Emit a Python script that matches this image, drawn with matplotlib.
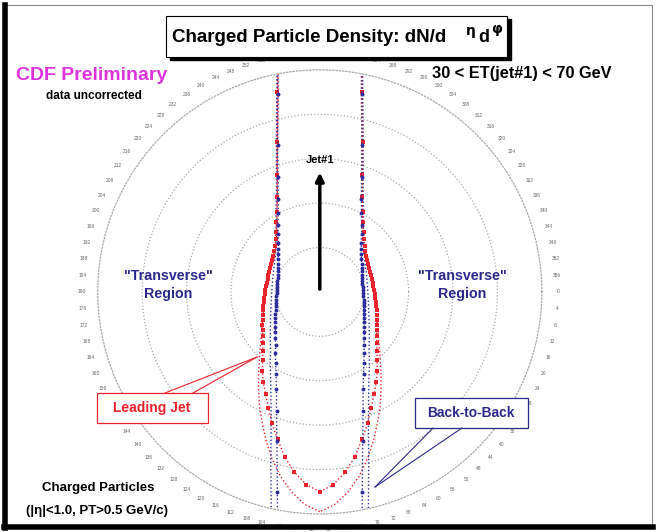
import numpy as np
import matplotlib.pyplot as plt
from matplotlib.patches import Rectangle

plt.rcParams['font.family'] = ['Liberation Sans', 'DejaVu Sans']

# delta phi from jet#1 (degrees), 4 degree bins
dphi = np.arange(0, 181, 4)

# charged particle density (scaled)
lead_data = [3.0, 2.7, 1.37, 0.92, 0.70, 0.56, 0.47, 0.41, 0.37, 0.335,
             0.31, 0.29, 0.275, 0.265, 0.258, 0.252, 0.248, 0.245, 0.243, 0.242,
             0.242, 0.243, 0.245, 0.248, 0.252, 0.257, 0.263, 0.27, 0.278, 0.287,
             0.298, 0.31, 0.325, 0.345, 0.37, 0.40, 0.44, 0.48, 0.52, 0.57,
             0.63, 0.69, 0.76, 0.82, 0.87, 0.90]
lead_theory = [3.0, 2.6, 1.35, 0.90, 0.69, 0.56, 0.47, 0.41, 0.365, 0.33,
               0.305, 0.285, 0.27, 0.26, 0.252, 0.247, 0.243, 0.24, 0.238, 0.237,
               0.237, 0.238, 0.24, 0.243, 0.247, 0.252, 0.258, 0.266, 0.275, 0.286,
               0.30, 0.315, 0.335, 0.36, 0.39, 0.425, 0.47, 0.52, 0.58, 0.64,
               0.71, 0.78, 0.85, 0.91, 0.96, 0.99]
b2b_data = [3.0, 2.6, 1.35, 0.91, 0.69, 0.55, 0.46, 0.40, 0.355, 0.32,
            0.29, 0.27, 0.252, 0.238, 0.227, 0.218, 0.211, 0.205, 0.20, 0.197,
            0.195, 0.194, 0.194, 0.195, 0.197, 0.20, 0.204, 0.209, 0.215, 0.222,
            0.231, 0.241, 0.254, 0.269, 0.288, 0.31, 0.34, 0.375, 0.42, 0.48,
            0.57, 0.70, 0.92, 1.35, 2.4, 3.0]
b2b_theory = [3.0, 2.6, 1.38, 0.93, 0.71, 0.57, 0.48, 0.42, 0.37, 0.335,
              0.305, 0.285, 0.268, 0.255, 0.245, 0.237, 0.231, 0.226, 0.222, 0.219,
              0.217, 0.216, 0.216, 0.217, 0.219, 0.222, 0.226, 0.231, 0.238, 0.246,
              0.256, 0.268, 0.282, 0.30, 0.32, 0.345, 0.38, 0.42, 0.47, 0.54,
              0.64, 0.80, 1.05, 1.5, 2.6, 3.0]

red = '#e8232b'
blue = '#2b2b9c'
navy = '#2a2a8c'
W, H = 656.0, 532.0


def both_sides(vals):
    # jet#1 sits at 270 deg, plot the same density on either side of it
    v = np.asarray(vals)
    ang = np.concatenate([270 - dphi[::-1], 270 + dphi[1:]])
    r = np.concatenate([v[::-1], v[1:]])
    return np.deg2rad(ang), r


def px(x, y):
    # pixel position (from top left) -> figure fraction
    return x / W, 1 - y / H


fig = plt.figure(figsize=(6.56, 5.32), dpi=100)

# slide frame
fig.patches.append(Rectangle((0.006, 0.009), 0.988, 0.982, transform=fig.transFigure,
                             fill=False, edgecolor='#888888', lw=0.8))
fig.add_artist(plt.Line2D([0.008, 0.008], [0.007, 0.99], color='black', lw=4,
                          transform=fig.transFigure))
fig.add_artist(plt.Line2D([0.006, 0.995], [0.009, 0.009], color='black', lw=4,
                          transform=fig.transFigure))

ax = fig.add_axes([0.149, 0.0338, 0.677, 0.835], projection='polar')
ax.set_theta_zero_location('E')
ax.set_theta_direction(-1)
ax.set_rlim(0, 1.0)

for vals, col, mk, ms in [(lead_theory, red, None, 0),
                          (b2b_theory, blue, None, 0),
                          (lead_data, red, 's', 3.2),
                          (b2b_data, blue, 'o', 2.8)]:
    th, r = both_sides(vals)
    ax.plot(th, r, color=col, linestyle=':', lw=1.0, marker=mk, ms=ms,
            markeredgewidth=0)

ax.set_rticks([0.2, 0.4, 0.6, 0.8])
ax.set_yticklabels([])
ax.yaxis.grid(True, color='#aaaaaa', linestyle=':', lw=0.9)
ax.xaxis.grid(False)
ax.set_thetagrids(np.arange(0, 360, 4), [str(a) for a in range(0, 360, 4)],
                  fontsize=3.5, color='#666666')
ax.tick_params(axis='x', pad=1)
ax.spines['polar'].set_linestyle(':')
ax.spines['polar'].set_color('#aaaaaa')
ax.spines['polar'].set_linewidth(0.9)

# jet#1 arrow
ax.annotate('', xy=(np.deg2rad(270), 0.55), xytext=(0, 0),
            arrowprops=dict(arrowstyle='-|>', color='black', lw=2.5,
                            mutation_scale=12))
ax.text(np.deg2rad(270), 0.595, 'Jet#1', fontsize=8, fontweight='bold',
        ha='center', va='center')

# title box with shadow
fig.patches.append(Rectangle((0.259, 0.887), 0.52, 0.077, transform=fig.transFigure,
                             facecolor='black', edgecolor='black'))
fig.patches.append(Rectangle((0.253, 0.893), 0.52, 0.077, transform=fig.transFigure,
                             facecolor='white', edgecolor='black', lw=0.8))
fig.text(*px(172, 37), 'Charged Particle Density: dN/d', fontsize=13.5,
         fontweight='bold', ha='left', va='center')
fig.text(*px(471, 31), 'η', fontsize=10, fontweight='bold', ha='center',
         va='center', family=['DejaVu Sans'])
fig.text(*px(484, 37), 'd', fontsize=13, fontweight='bold', ha='center',
         va='center')
fig.text(*px(497, 29), 'φ', fontsize=10, fontweight='bold', ha='center',
         va='center', family=['DejaVu Sans'])

fig.text(*px(92, 75), 'CDF Preliminary', fontsize=14, fontweight='bold',
         color='#dd33dd', ha='center', va='center')
fig.text(*px(94, 96), 'data uncorrected', fontsize=8.5, fontweight='bold',
         ha='center', va='center')
fig.text(*px(522, 73), '30 < ET(jet#1) < 70 GeV', fontsize=11.8, fontweight='bold',
         ha='center', va='center')

fig.text(*px(168, 285), '"Transverse"\nRegion', fontsize=10.3, fontweight='bold',
         color=navy, ha='center', va='center', linespacing=1.3)
fig.text(*px(462, 285), '"Transverse"\nRegion', fontsize=10.3, fontweight='bold',
         color=navy, ha='center', va='center', linespacing=1.3)

fig.text(*px(98, 488), 'Charged Particles', fontsize=9.5, fontweight='bold',
         ha='center', va='center')
fig.text(*px(97, 511), '(|η|<1.0, PT>0.5 GeV/c)', fontsize=9.5,
         fontweight='bold', ha='center', va='center')

# callouts
fig.patches.append(Rectangle(px(97, 423), 111 / W, 30 / H,
                             transform=fig.transFigure, facecolor='white',
                             edgecolor=red, lw=0.9))
fig.text(*px(152, 408), 'Leading Jet', fontsize=10, fontweight='bold',
         color=red, ha='center', va='center')
for x0 in (165, 193):
    fig.add_artist(plt.Line2D([x0 / W, 257 / W], [1 - 393 / H, 1 - 357 / H],
                              color=red, lw=0.8, transform=fig.transFigure))

fig.patches.append(Rectangle(px(415, 428), 113 / W, 30 / H,
                             transform=fig.transFigure, facecolor='white',
                             edgecolor=navy, lw=0.9))
fig.text(*px(471, 413), 'Back-to-Back', fontsize=9.9, fontweight='bold',
         color=navy, ha='center', va='center')
for x0 in (433, 462):
    fig.add_artist(plt.Line2D([x0 / W, 375 / W], [1 - 428 / H, 1 - 487 / H],
                              color=navy, lw=0.8, transform=fig.transFigure))

fig.savefig('out.png', dpi=100)
